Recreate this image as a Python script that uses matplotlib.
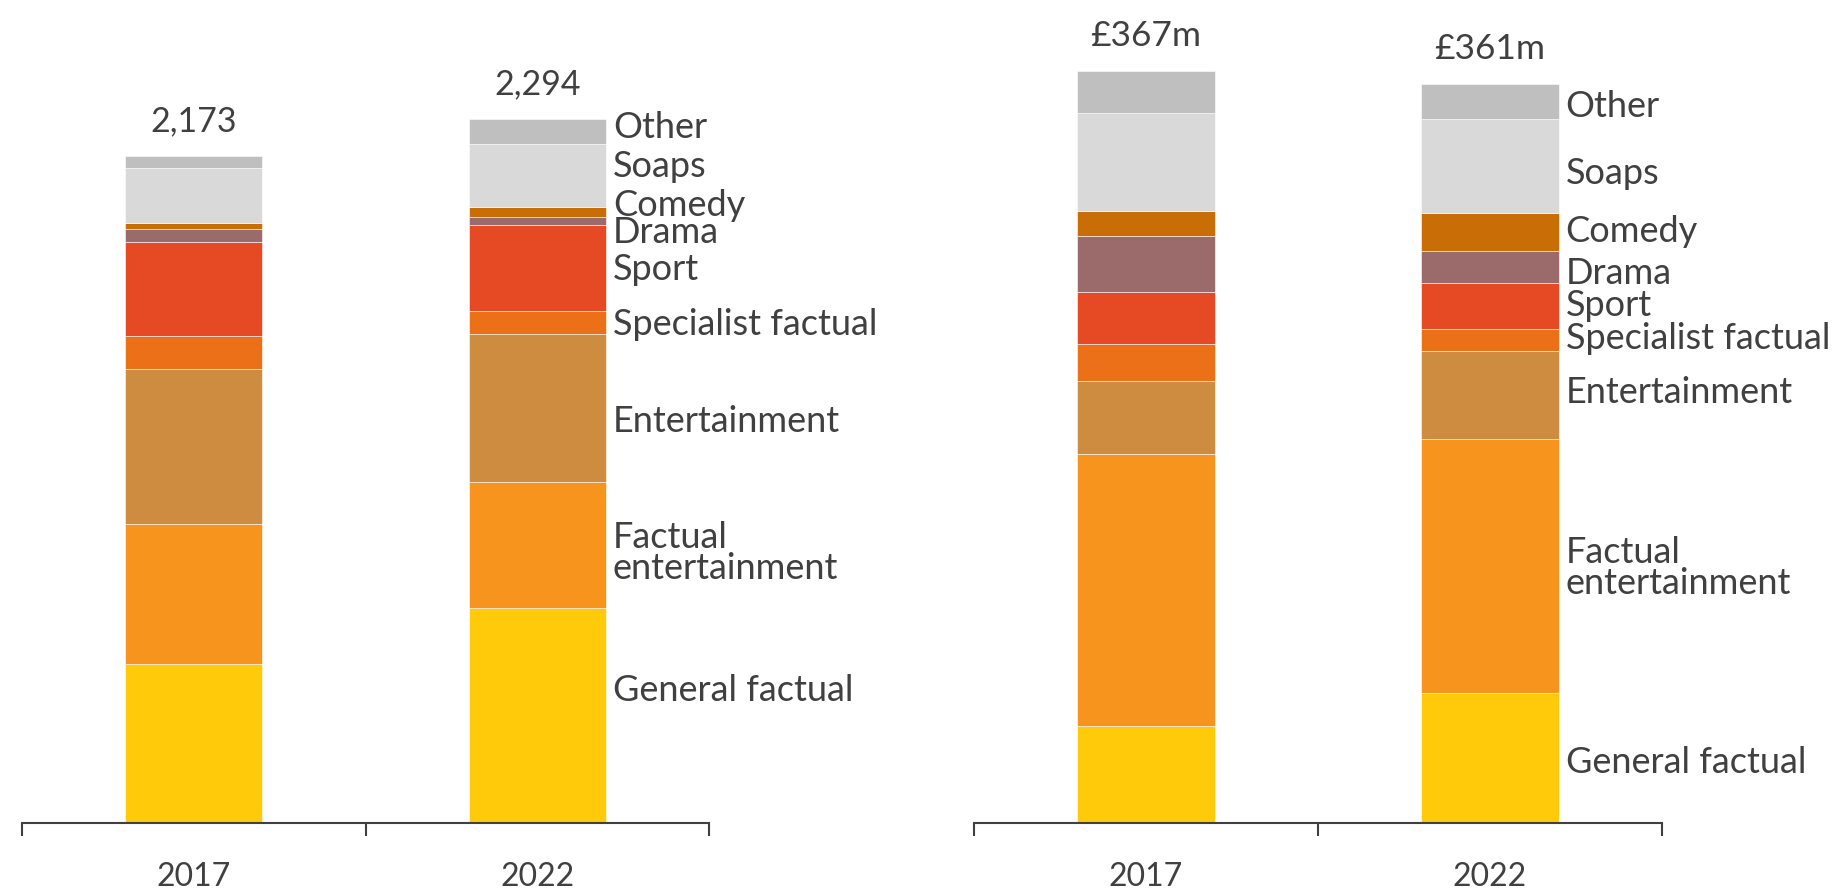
import numpy as np
import matplotlib.pyplot as plt

plt.rcParams['font.family'] = ['Lato', 'DejaVu Sans']

years = ["2017", "2022"]
genres = ["General factual", "Factual\nentertainment", "Entertainment",
          "Specialist factual", "Sport", "Drama", "Comedy", "Soaps", "Other"]
colours = ["#FECA0A", "#F7941E", "#CE8C40", "#EB7018", "#E54A24",
           "#9B6A6A", "#C96D06", "#D9D9D9", "#BFBFBF"]

# hours by genre (bottom to top)
hours_2017 = [517, 459, 502, 108, 307, 42, 19, 181, 38]
hours_2022 = [702, 410, 482, 76, 278, 27, 33, 206, 80]

# spend by genre, £m
spend_2017 = [47.3, 133.1, 35.5, 17.9, 25.4, 27.4, 12.4, 47.6, 20.5]
spend_2022 = [63.7, 124.0, 42.9, 10.9, 22.3, 15.8, 18.6, 45.5, 17.3]

hours_totals = ["2,173", "2,294"]
spend_totals = ["£367m", "£361m"]

# vertical nudges for the genre labels on the left panel (they crowd at the top)
hours_label_nudge = [80, -26, -45, -8, -6, -36, 21, 28, 14]
spend_label_nudge = [-2.5, -1, 1, 0.6, 0, -3.5, 0, -3.6, -2.5]

TEXT = "#404040"


def stacked_panel(ax, series, totals, nudges, ymax, total_size):
    data = np.array(series)
    x = np.arange(len(years))
    bottoms = np.zeros(len(years))
    for i, colour in enumerate(colours):
        ax.bar(x, data[:, i], bottom=bottoms, width=0.4, color=colour,
               edgecolor="white", linewidth=0.4)
        bottoms += data[:, i]

    for xi, top, txt in zip(x, bottoms, totals):
        ax.annotate(txt, (xi, top), xytext=(0, 18), textcoords="offset points",
                    ha="center", va="baseline", fontsize=total_size, color=TEXT)

    # genre labels beside the latest bar
    last = data[-1]
    cum = np.cumsum(last) - last / 2
    for name, mid, dy in zip(genres, cum, nudges):
        ax.annotate(name, (x[-1] + 0.2, mid + dy), xytext=(5, 0),
                    textcoords="offset points", ha="left", va="center",
                    fontsize=26, color=TEXT, linespacing=0.92,
                    annotation_clip=False)

    ax.set_xlim(-0.5, 1.5)
    ax.set_ylim(0, ymax)
    for side in ["left", "right", "top"]:
        ax.spines[side].set_visible(False)
    ax.spines["bottom"].set_color(TEXT)
    ax.spines["bottom"].set_linewidth(1.5)
    ax.set_yticks([])
    ax.set_xticks([0, 1])
    ax.set_xticklabels(years, fontsize=23, color=TEXT)
    ax.tick_params(axis="x", which="major", length=0, pad=28)
    ax.set_xticks([-0.5, 0.5, 1.5], minor=True)
    ax.tick_params(axis="x", which="minor", length=9, width=1.5,
                   color=TEXT, direction="out")


fig = plt.figure(figsize=(18.34, 8.89), dpi=100)
ax_hours = fig.add_axes([22 / 1834, 66 / 889, 687 / 1834, 823 / 889])
ax_spend = fig.add_axes([974 / 1834, 66 / 889, 688 / 1834, 823 / 889])

stacked_panel(ax_hours, [hours_2017, hours_2022], hours_totals,
              hours_label_nudge, 2682, 24.5)
stacked_panel(ax_spend, [spend_2017, spend_2022], spend_totals,
              spend_label_nudge, 402, 25.5)

fig.savefig("out.png", dpi=100, facecolor="white")
